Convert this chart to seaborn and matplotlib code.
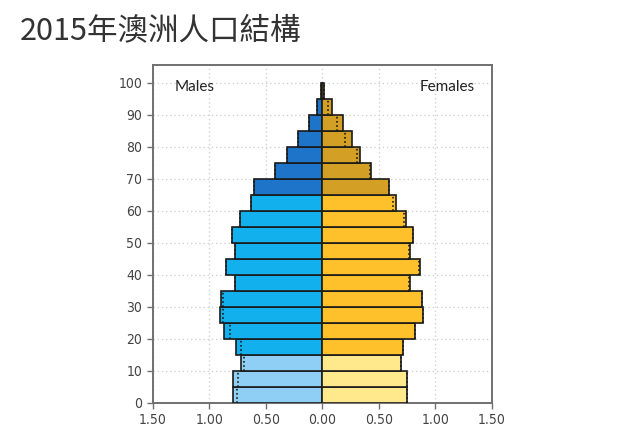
import numpy as np
import pandas as pd
import matplotlib
matplotlib.use("Agg")
import matplotlib.pyplot as plt
import seaborn as sns

# ---- data ----
age_start = [0, 5, 10, 15, 20, 25, 30, 35, 40, 45, 50, 55, 60, 65, 70, 75, 80, 85, 90, 95]
male = [0.79, 0.79, 0.72, 0.765, 0.865, 0.906, 0.90, 0.77, 0.85, 0.77, 0.80, 0.73,
        0.63, 0.60, 0.42, 0.31, 0.21, 0.12, 0.044, 0.012]
female = [0.753, 0.747, 0.693, 0.717, 0.818, 0.896, 0.887, 0.775, 0.865, 0.775, 0.80, 0.74,
          0.656, 0.59, 0.436, 0.333, 0.26, 0.18, 0.088, 0.012]
male_cmp = [0.754, 0.745, 0.692, 0.715, 0.812, 0.88, 0.88, 0.77, 0.85, 0.77, 0.80, 0.73,
            0.63, 0.60, 0.42, 0.31, 0.21, 0.12, 0.044, 0.012]
female_cmp = [0.753, 0.747, 0.693, 0.717, 0.818, 0.896, 0.887, 0.77, 0.86, 0.77, 0.80, 0.72,
              0.627, 0.59, 0.42, 0.31, 0.20, 0.127, 0.053, 0.012]
x_ticks = [-1.5, -1.0, -0.5, 0.0, 0.5, 1.0, 1.5]
x_ticklabels = ["1.50", "1.00", "0.50", "0.00", "0.50", "1.00", "1.50"]
y_ticks = list(range(0, 101, 10))
title = "2015年澳洲人口結構"

palette = {
    "M0": "#8fcff6", "M1": "#12b0ec", "M2": "#1e74c8",
    "F0": "#ffe98c", "F1": "#ffc12b", "F2": "#d39f25",
}

def band(a):
    return 0 if a < 15 else (1 if a < 65 else 2)

rows = []
for a, m, f in zip(age_start, male, female):
    b = band(a)
    rows.append({"mid": a + 2.5, "value": -m, "grp": f"M{b}"})
    rows.append({"mid": a + 2.5, "value": f, "grp": f"F{b}"})
df = pd.DataFrame(rows)

fig = plt.figure(figsize=(6.4, 4.41), dpi=100)
ax = fig.add_axes([0.2386, 0.0862, 0.5297, 0.7664])

sns.barplot(data=df, x="value", y="mid", hue="grp", palette=palette, orient="y",
            native_scale=True, dodge=False, width=1.0, errorbar=None, saturation=1,
            edgecolor="#1a1a1a", linewidth=1.2, legend=False, ax=ax, zorder=3)

# comparison (dotted) lines
mids = np.array(age_start) + 2.5
ax.vlines(-np.array(male_cmp), mids - 2.5, mids + 2.5, colors="#1a1a1a",
          linestyles=(0, (1, 1.5)), linewidth=1.2, zorder=4)
ax.vlines(np.array(female_cmp), mids - 2.5, mids + 2.5, colors="#1a1a1a",
          linestyles=(0, (1, 1.5)), linewidth=1.2, zorder=4)

ax.set_xlim(-1.5, 1.5)
ax.set_ylim(0, 105.6)
ax.set_xticks(x_ticks)
ax.set_xticklabels(x_ticklabels)
ax.set_yticks(y_ticks)
ax.set_xlabel("")
ax.set_ylabel("")
ax.grid(True, color="#d2d2d2", linestyle=(0, (1, 2)), linewidth=1.0, zorder=0)
ax.set_axisbelow(True)
for s in ax.spines.values():
    s.set_color("#707070")
    s.set_linewidth(1.4)
ax.tick_params(axis="both", colors="#707070", length=4, width=1, labelcolor="#444444",
               labelsize=10)
for lab in ax.get_xticklabels() + ax.get_yticklabels():
    lab.set_family(["DejaVu Sans"])
    lab.set_fontstretch("condensed")

ax.text(0.065, 0.935, "Males", transform=ax.transAxes, fontsize=11, color="#222222",
        family=["Lato", "DejaVu Sans"], va="center", ha="left")
ax.text(0.95, 0.935, "Females", transform=ax.transAxes, fontsize=11, color="#222222",
        family=["Lato", "DejaVu Sans"], va="center", ha="right")

fig.text(0.031, 0.93, title, fontsize=22, color="#333333",
         family=["Noto Sans CJK TC", "DejaVu Sans"], va="center", ha="left")

fig.savefig("out.png", dpi=100)
